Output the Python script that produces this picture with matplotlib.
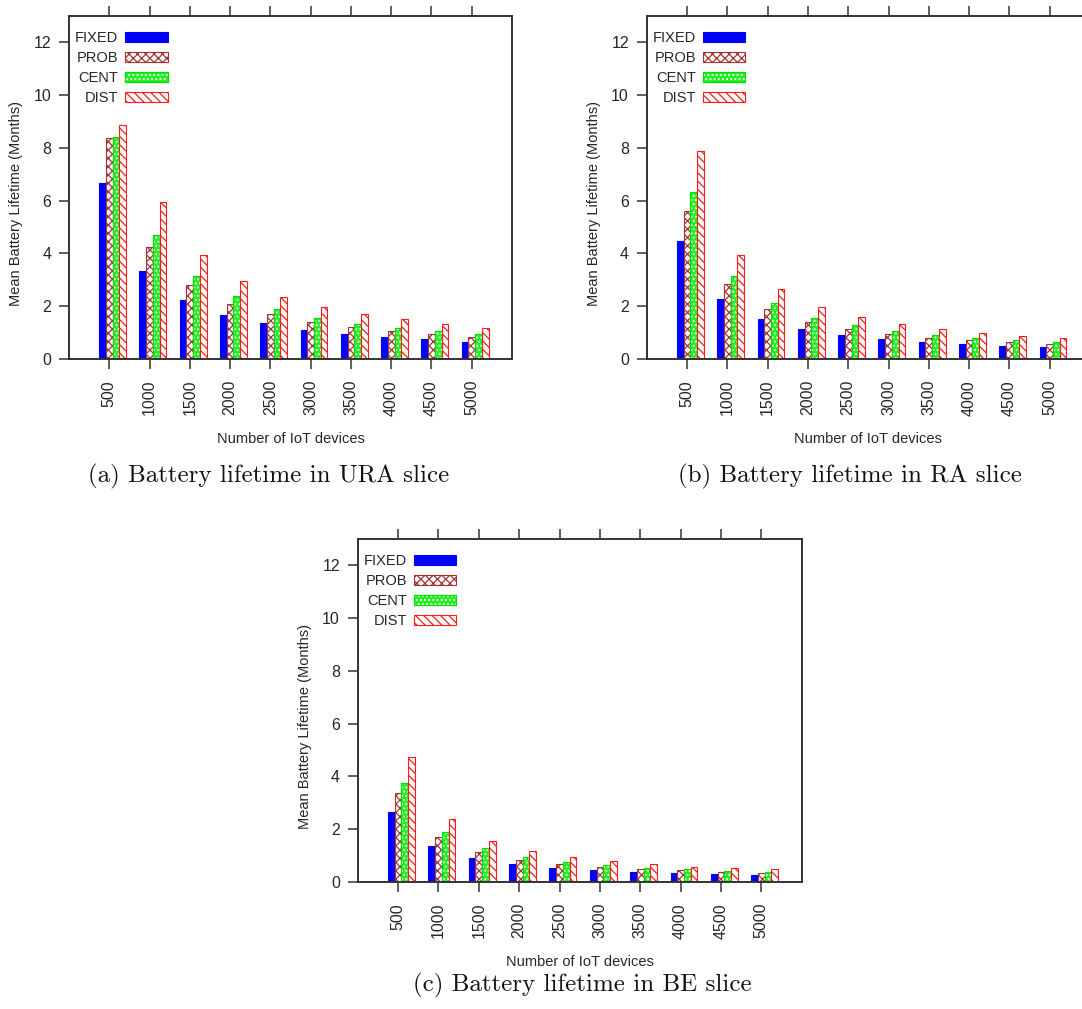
import matplotlib
matplotlib.use('Agg')
import matplotlib.pyplot as plt
from matplotlib.legend_handler import HandlerTuple
import numpy as np

devices = ['500', '1000', '1500', '2000', '2500', '3000', '3500', '4000', '4500', '5000']
series = ['FIXED', 'PROB', 'CENT', 'DIST']

# URA slice
ura_fixed = [6.66, 3.34, 2.23, 1.67, 1.34, 1.10, 0.95, 0.83, 0.74, 0.65]
ura_prob = [8.39, 4.22, 2.80, 2.08, 1.69, 1.40, 1.21, 1.05, 0.93, 0.83]
ura_cent = [8.42, 4.70, 3.14, 2.39, 1.87, 1.56, 1.33, 1.16, 1.05, 0.93]
ura_dist = [8.87, 5.94, 3.94, 2.95, 2.35, 1.96, 1.69, 1.49, 1.33, 1.16]

# RA slice
ra_fixed = [4.48, 2.25, 1.51, 1.12, 0.89, 0.75, 0.64, 0.56, 0.49, 0.44]
ra_prob = [5.62, 2.82, 1.87, 1.40, 1.11, 0.93, 0.80, 0.70, 0.63, 0.56]
ra_cent = [6.32, 3.14, 2.10, 1.56, 1.27, 1.05, 0.90, 0.78, 0.71, 0.64]
ra_dist = [7.89, 3.94, 2.65, 1.96, 1.57, 1.32, 1.11, 0.99, 0.87, 0.78]

# BE slice
be_fixed = [2.66, 1.34, 0.89, 0.67, 0.53, 0.44, 0.38, 0.34, 0.29, 0.25]
be_prob = [3.35, 1.68, 1.11, 0.84, 0.67, 0.57, 0.47, 0.43, 0.38, 0.34]
be_cent = [3.76, 1.90, 1.27, 0.92, 0.76, 0.63, 0.53, 0.47, 0.42, 0.35]
be_dist = [4.72, 2.37, 1.56, 1.16, 0.92, 0.80, 0.68, 0.57, 0.52, 0.47]

captions = ['(a) Battery lifetime in URA slice',
            '(b) Battery lifetime in RA slice',
            '(c) Battery lifetime in BE slice']

plt.rcParams['font.family'] = ['Liberation Sans', 'DejaVu Sans']
plt.rcParams['hatch.linewidth'] = 0.9
txt = '#262626'

W, H = 1082, 1009
fig = plt.figure(figsize=(W / 100, H / 100), dpi=100)


def px_axes(left, top, right, bottom):
    return fig.add_axes([left / W, 1 - bottom / H, (right - left) / W, (bottom - top) / H])


def draw(ax, fixed, prob, cent, dist):
    x = np.arange(len(devices))
    w = 1 / 6
    b1 = ax.bar(x - w, fixed, w, color='#0000ff', edgecolor='#0000ff', linewidth=0.8)
    b2 = ax.bar(x, prob, w, facecolor='white', edgecolor='#a83232', hatch='xxxx', linewidth=0.8)
    b3 = ax.bar(x + w, cent, w, color='#22f022', edgecolor='#00dd00', linewidth=0.8)
    b3d = ax.bar(x + w, cent, w, fill=False, edgecolor='white', hatch='....', linewidth=0)
    b3e = ax.bar(x + w, cent, w, fill=False, edgecolor='#00dd00', linewidth=0.8)
    b4 = ax.bar(x + 2 * w, dist, w, facecolor='white', edgecolor='#ff1a1a',
                hatch='\\\\\\\\', linewidth=0.8)

    ax.set_xlim(-1, 10)
    ax.set_ylim(0, 13)
    ax.set_yticks(range(0, 13, 2))
    ax.set_xticks(x)
    ax.set_xticklabels(devices, rotation=90)
    ax.tick_params(axis='both', direction='out', length=7.3, width=1.1, color='#333333',
                   labelsize=11.5, labelcolor=txt)
    ax.tick_params(axis='x', top=True, labeltop=False, pad=8)
    ax.tick_params(axis='y', pad=5.5)
    for s in ax.spines.values():
        s.set_color('#333333')
        s.set_linewidth(1.4)
    ax.set_xlabel('Number of IoT devices', fontsize=10.5, color=txt, va='top')
    ax.xaxis.set_label_coords(0.5, -0.214)
    ax.set_ylabel('Mean Battery Lifetime (Months)', fontsize=10.5, color=txt)
    ax.yaxis.set_label_coords(-0.104, 0.454)

    handles = [b1[0], b2[0], (b3[0], b3d[0], b3e[0]), b4[0]]
    ax.legend(handles, series, loc='upper left', bbox_to_anchor=(0.0, 0.973),
              markerfirst=False, frameon=False, fontsize=10.5,
              handlelength=2.9, handleheight=0.75, handletextpad=0.5,
              labelspacing=0.41, borderpad=0.2, borderaxespad=0.2,
              handler_map={tuple: HandlerTuple(ndivide=1)},
              labelcolor=txt)


ax_a = px_axes(69, 16, 512, 358.7)
draw(ax_a, ura_fixed, ura_prob, ura_cent, ura_dist)
ax_b = px_axes(646.7, 16, 1090, 358.7)
draw(ax_b, ra_fixed, ra_prob, ra_cent, ra_dist)
ax_c = px_axes(357.7, 539, 801.7, 881.7)
draw(ax_c, be_fixed, be_prob, be_cent, be_dist)

cap_pos = [(268.5, 476), (849.5, 476), (582, 985)]
for (cx, cy), cap in zip(cap_pos, captions):
    fig.text(cx / W, 1 - cy / H, cap, ha='center', va='center',
             fontsize=18, family=['cmr10', 'DejaVu Serif'], color='#111111')

fig.savefig('out.png', dpi=100)
